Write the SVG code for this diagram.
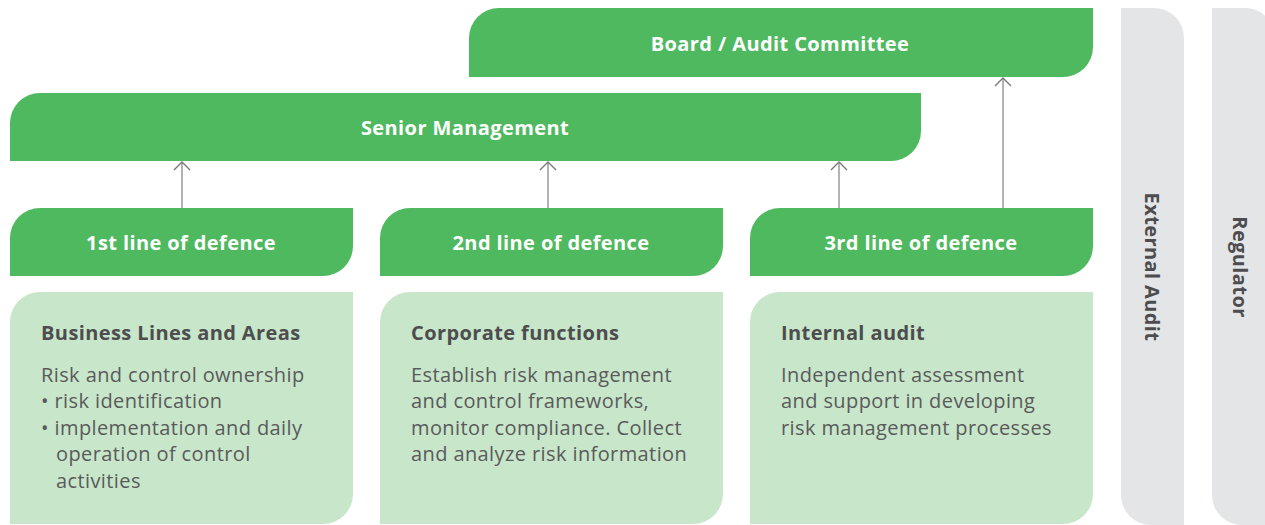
<svg xmlns="http://www.w3.org/2000/svg" width="1265" height="525" viewBox="0 0 1265 525">
<style>
.g{fill:#4fb960}
.lg{fill:#c8e6c9}
.gr{fill:#e4e5e7}
text{font-family:"Open Sans","Liberation Sans",sans-serif;font-size:20px;letter-spacing:0.4px}
.t{font-weight:700;fill:#fff;text-anchor:middle}
.h{font-weight:700;fill:#4d4d4f}
.b{fill:#5a5a5c}
.v{font-weight:700;fill:#4d4d4f;text-anchor:middle}
.c{stroke:#8a8a8a;stroke-width:1.3;fill:none}
</style>
<defs>
<marker id="ah" viewBox="0 0 10 18" refX="9" refY="9" markerWidth="10" markerHeight="18" markerUnits="userSpaceOnUse" orient="auto">
<path d="M1,1 L9,9 L1,17" fill="none" stroke="#777" stroke-width="1.3"/>
</marker>
</defs>
<g id="side-external">
<path class="gr" d="M1121,8 H1154 A30 30 0 0 1 1184,38 V525 H1151 A30 30 0 0 1 1121,495 Z"/>
<text class="v" transform="translate(1152,267) rotate(90)" dy="7">External Audit</text>
</g>
<g id="side-regulator">
<path class="gr" d="M1212,8 H1245 A30 30 0 0 1 1275,38 V525 H1242 A30 30 0 0 1 1212,495 Z"/>
<text class="v" transform="translate(1240,267) rotate(90)" dy="7">Regulator</text>
</g>
<g id="board">
<path class="g" d="M499,8 H1093 V47 A30 30 0 0 1 1063,77 H469 V38 A30 30 0 0 1 499,8 Z"/>
<text class="t" x="780" y="51">Board / Audit Committee</text>
</g>
<g id="senior">
<path class="g" d="M40,93 H921 V131 A30 30 0 0 1 891,161 H10 V123 A30 30 0 0 1 40,93 Z"/>
<text class="t" x="465" y="135">Senior Management</text>
</g>
<g id="line1">
<path class="g" d="M40,208 H353 V246 A30 30 0 0 1 323,276 H10 V238 A30 30 0 0 1 40,208 Z"/>
<text class="t" x="181" y="250">1st line of defence</text>
</g>
<g id="line2">
<path class="g" d="M410,208 H723 V246 A30 30 0 0 1 693,276 H380 V238 A30 30 0 0 1 410,208 Z"/>
<text class="t" x="551" y="250">2nd line of defence</text>
</g>
<g id="line3">
<path class="g" d="M780,208 H1093 V246 A30 30 0 0 1 1063,276 H750 V238 A30 30 0 0 1 780,208 Z"/>
<text class="t" x="921" y="250">3rd line of defence</text>
</g>
<g id="content1">
<path class="lg" d="M40,292 H353 V494 A30 30 0 0 1 323,524 H10 V322 A30 30 0 0 1 40,292 Z"/>
<text class="h" x="41" y="340">Business Lines and Areas</text>
<text class="b" x="41" y="382">Risk and control ownership</text>
<text class="b" x="41" y="408">• risk identification</text>
<text class="b" x="41" y="435">• implementation and daily</text>
<text class="b" x="56" y="461">operation of control</text>
<text class="b" x="56" y="488">activities</text>
</g>
<g id="content2">
<path class="lg" d="M410,292 H723 V494 A30 30 0 0 1 693,524 H380 V322 A30 30 0 0 1 410,292 Z"/>
<text class="h" x="411" y="340">Corporate functions</text>
<text class="b" x="411" y="382">Establish risk management</text>
<text class="b" x="411" y="408">and control frameworks,</text>
<text class="b" x="411" y="435">monitor compliance. Collect</text>
<text class="b" x="411" y="461">and analyze risk information</text>
</g>
<g id="content3">
<path class="lg" d="M780,292 H1093 V494 A30 30 0 0 1 1063,524 H750 V322 A30 30 0 0 1 780,292 Z"/>
<text class="h" x="781" y="340">Internal audit</text>
<text class="b" x="781" y="382">Independent assessment</text>
<text class="b" x="781" y="408">and support in developing</text>
<text class="b" x="781" y="435">risk management processes</text>
</g>
<g id="connectors">
<line class="c" x1="182" y1="208" x2="182" y2="162" marker-end="url(#ah)"/>
<line class="c" x1="548" y1="208" x2="548" y2="162" marker-end="url(#ah)"/>
<line class="c" x1="839" y1="208" x2="839" y2="162" marker-end="url(#ah)"/>
<line class="c" x1="1003" y1="208" x2="1003" y2="78" marker-end="url(#ah)"/>
</g>
</svg>
